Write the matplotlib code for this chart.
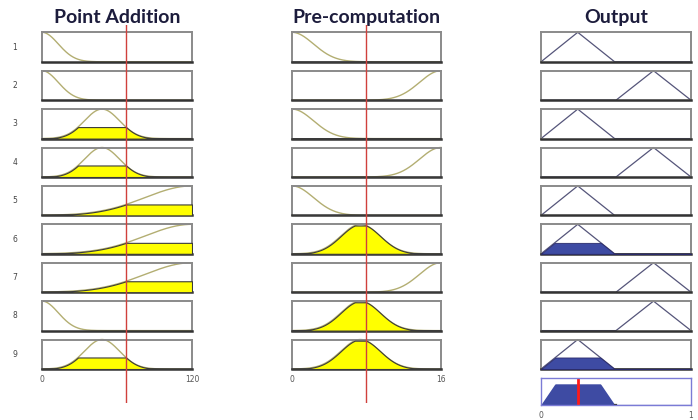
import numpy as np
import matplotlib
matplotlib.use("agg")
import matplotlib.pyplot as plt

# fuzzy rule viewer: 2 inputs (gaussian MFs), 1 output (triangular MFs), 9 rules
TITLES = ["Point Addition", "Pre-computation", "Output"]
RULE_LABELS = ["1", "2", "3", "4", "5", "6", "7", "8", "9"]

IN1_RANGE = (0, 120)
IN2_RANGE = (0, 16)
OUT_RANGE = (0, 1)
IN1_VALUE = 67.2
IN2_VALUE = 7.95

IN1_CENTER = [0, 0, 48, 48, 120, 120, 120, 0, 48]
IN1_SIGMA = [13, 13, 14, 14, 37.5, 37.5, 37.5, 13, 14]
IN2_CENTER = [0, 16, 0, 16, 0, 7.35, 16, 7.35, 7.35]
IN2_SIGMA = [2.3, 2.3, 2.3, 2.3, 2.3, 2.1, 2.3, 2.1, 2.1]

OUT_TRI = {"low": (0.0, 0.245, 0.49), "high": (0.5, 0.75, 1.0)}
OUT_MF = ["low", "high", "low", "high", "low", "low", "high", "high", "low"]

W, H = 698, 420
COL_X = [42, 292, 541]
COL_W = [150, 149, 150]
ROW_TOP0, ROW_STEP, ROW_H = 32.3, 38.4, 29.5

CURVE = "#b3ae72"
YELLOW = "#ffff00"
BLUE = "#3e4ba3"
TITLE_C = "#1c1c3c"


def gaussmf(x, c, s):
    return np.exp(-((x - c) ** 2) / (2 * s ** 2))


def trimf(x, abc):
    a, b, c = abc
    return np.clip(np.minimum((x - a) / (b - a), (c - x) / (c - b)), 0, 1)


def px_axes(fig, x, y, w, h):
    return fig.add_axes([x / W, 1 - (y + h) / H, w / W, h / H])


def style_box(ax, lo, hi):
    ax.set_xlim(lo, hi)
    ax.set_ylim(0, 1)
    ax.set_xticks([])
    ax.set_yticks([])
    for side in ("top", "left", "right"):
        ax.spines[side].set_color("#8a8a8a")
        ax.spines[side].set_linewidth(1.4)
    ax.spines["bottom"].set_color("#333333")
    ax.spines["bottom"].set_linewidth(1.8)


def main():
    fig = plt.figure(figsize=(W / 100, H / 100), dpi=100)
    fig.patch.set_facecolor("white")

    x1 = np.linspace(*IN1_RANGE, 500)
    x2 = np.linspace(*IN2_RANGE, 500)
    xo = np.linspace(*OUT_RANGE, 500)
    agg = np.zeros_like(xo)
    title_kw = dict(fontsize=14, fontweight="bold", family="Lato",
                    color=TITLE_C, pad=6.5)

    for i in range(9):
        top = ROW_TOP0 + ROW_STEP * i
        mu1 = gaussmf(IN1_VALUE, IN1_CENTER[i], IN1_SIGMA[i])
        mu2 = gaussmf(IN2_VALUE, IN2_CENTER[i], IN2_SIGMA[i])
        fire = min(mu1, mu2)

        # input 1
        ax = px_axes(fig, COL_X[0], top, COL_W[0], ROW_H)
        style_box(ax, *IN1_RANGE)
        y = gaussmf(x1, IN1_CENTER[i], IN1_SIGMA[i])
        ax.plot(x1, y, color=CURVE, lw=1, clip_on=False)
        if mu1 > 1e-3:
            ax.fill_between(x1, np.minimum(y, mu1), color=YELLOW,
                            edgecolor="#3a3a3a", lw=0.8, zorder=3)
        ax.text(-0.18, 0.5, RULE_LABELS[i], transform=ax.transAxes,
                ha="center", va="center", fontsize=5.5, color="#444444")
        if i == 0:
            ax.set_title(TITLES[0], **title_kw)
        if i == 8:
            ax.set_xticks(IN1_RANGE)
            ax.tick_params(length=0, pad=4, labelsize=5.5, colors="#555555")

        # input 2
        ax = px_axes(fig, COL_X[1], top, COL_W[1], ROW_H)
        style_box(ax, *IN2_RANGE)
        y = gaussmf(x2, IN2_CENTER[i], IN2_SIGMA[i])
        ax.plot(x2, y, color=CURVE, lw=1, clip_on=False)
        if mu2 > 1e-3:
            ax.fill_between(x2, np.minimum(y, mu2), color=YELLOW,
                            edgecolor="#3a3a3a", lw=0.8, zorder=3)
        if i == 0:
            ax.set_title(TITLES[1], **title_kw)
        if i == 8:
            ax.set_xticks(IN2_RANGE)
            ax.tick_params(length=0, pad=4, labelsize=5.5, colors="#555555")

        # output
        ax = px_axes(fig, COL_X[2], top, COL_W[2], ROW_H)
        style_box(ax, *OUT_RANGE)
        y = trimf(xo, OUT_TRI[OUT_MF[i]])
        ax.plot(xo, y, color="#55557a", lw=0.9, clip_on=False)
        clipped = np.minimum(y, fire)
        if fire > 0.02:
            ax.fill_between(xo, clipped, color=BLUE, edgecolor="#2a2a6a",
                            lw=0.6, zorder=3)
        agg += clipped
        if i == 0:
            ax.set_title(TITLES[2], **title_kw)

    # aggregated output with centroid
    ax = px_axes(fig, COL_X[2], 377.5, COL_W[2], 27)
    ax.set_xlim(*OUT_RANGE)
    ax.set_ylim(0, 1)
    for sp in ax.spines.values():
        sp.set_color("#7b7bd6")
        sp.set_linewidth(1)
    ax.fill_between(xo, agg, color=BLUE, lw=0)
    ax.plot(xo, np.where(agg < 1e-6, 0, np.nan), color="#333333", lw=1.6)
    centroid = np.sum(xo * agg) / np.sum(agg)
    ax.axvline(centroid, color="#ff1a1a", lw=2)
    ax.set_yticks([])
    ax.set_xticks(OUT_RANGE)
    ax.set_xticklabels(["0", "1"])
    ax.tick_params(length=0, pad=5, labelsize=5.5, colors="#555555")

    # input value lines across the whole input columns
    for col, (rng, val) in enumerate([(IN1_RANGE, IN1_VALUE), (IN2_RANGE, IN2_VALUE)]):
        ov = px_axes(fig, COL_X[col], 25, COL_W[col], 378)
        ov.set_xlim(*rng)
        ov.axis("off")
        ov.patch.set_alpha(0)
        ov.axvline(val, color="#d0403c", lw=1)

    fig.savefig("out.png", dpi=100)


if __name__ == "__main__":
    main()
